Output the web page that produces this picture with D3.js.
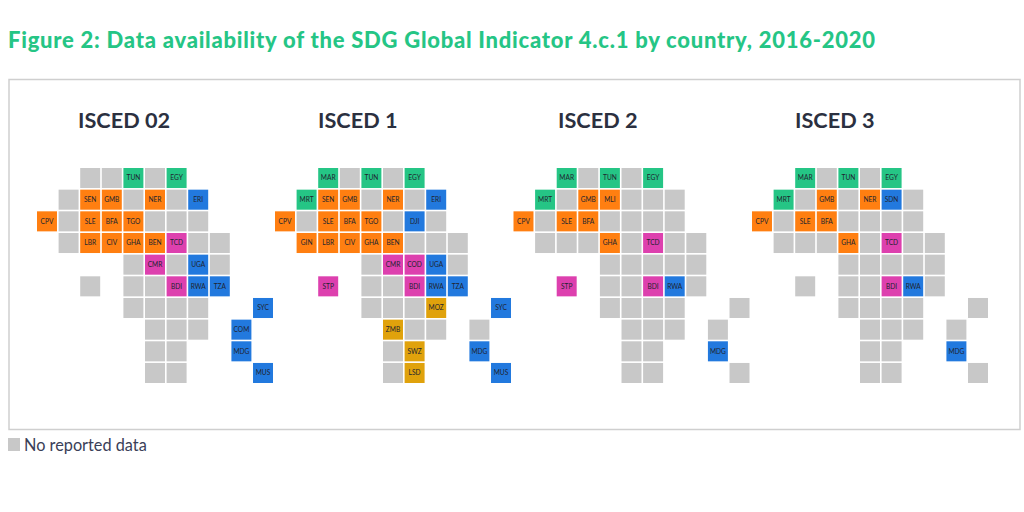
<!DOCTYPE html>
<html>
<head>
<meta charset="utf-8">
<script src="https://cdn.jsdelivr.net/npm/d3@7"></script>
<style>
    html, body { margin: 0; background: #fff; }
    svg { display: block; }
    text { font-family: Lato, sans-serif; }
</style>
</head>
<body>
<svg id="chart" width="1024" height="512"></svg>
<script>
// one string per map row, 11 columns: "." = no tile, "x" = no reported data
const isced02 = [
    ". . x x TUN x EGY . . . .",
    ". x SEN GMB x NER x ERI . . .",
    "CPV x SLE BFA TGO x x x . . .",
    ". x LBR CIV GHA BEN TCD x x . .",
    ". . . . x CMR x UGA x . .",
    ". . x . x x BDI RWA TZA . .",
    ". . . . x x x x . . SYC",
    ". . . . . x x x . COM .",
    ". . . . . x x . . MDG .",
    ". . . . . x x . . . MUS",
];
const isced1 = [
    ". . MAR x TUN x EGY . . . .",
    ". MRT SEN GMB x NER x ERI . . .",
    "CPV x SLE BFA TGO x DJI x . . .",
    ". GIN LBR CIV GHA BEN x x x . .",
    ". . . . x CMR COD UGA x . .",
    ". . STP . x x BDI RWA TZA . .",
    ". . . . x x x MOZ . . SYC",
    ". . . . . ZMB x x . x .",
    ". . . . . x SWZ . . MDG .",
    ". . . . . x LSD . . . MUS",
];
const isced2 = [
    ". . MAR x TUN x EGY . . . .",
    ". MRT x GMB MLI x x x . . .",
    "CPV x SLE BFA x x x x . . .",
    ". x x x GHA x TCD x x . .",
    ". . . . x x x x x . .",
    ". . STP . x x BDI RWA x . .",
    ". . . . x x x x . . x",
    ". . . . . x x x . x .",
    ". . . . . x x . . MDG .",
    ". . . . . x x . . . x",
];
const isced3 = [
    ". . MAR x TUN x EGY . . . .",
    ". MRT x GMB x NER SDN x . . .",
    "CPV x SLE BFA x x x x . . .",
    ". x x x GHA x TCD x x . .",
    ". . . . x x x x x . .",
    ". . x . x x BDI RWA x . .",
    ". . . . x x x x . . x",
    ". . . . . x x x . x .",
    ". . . . . x x . . MDG .",
    ". . . . . x x . . . x",
];

const panelNames = ["ISCED 02", "ISCED 1", "ISCED 2", "ISCED 3"];
const panelRows = [isced02, isced1, isced2, isced3];

// regions, these give the tile colours
const northern = ["MAR", "TUN", "EGY", "MRT"];
const western = ["SEN", "GMB", "NER", "CPV", "SLE", "BFA", "TGO", "GIN", "LBR", "CIV", "GHA", "BEN", "MLI"];
const central = ["TCD", "CMR", "COD", "BDI", "STP"];
const eastern = ["ERI", "DJI", "SDN", "UGA", "RWA", "TZA", "SYC", "COM", "MDG", "MUS"];
const southern = ["MOZ", "ZMB", "SWZ", "LSD"];

function main() {
    const svg = d3.select("#chart");

    const regionOf = new Map();
    [northern, western, central, eastern, southern].forEach((list, i) =>
        list.forEach(code => regionOf.set(code, i)));

    const color = d3.scaleOrdinal()
        .domain([0, 1, 2, 3, 4])
        .range(["#25c585", "#ff7f11", "#dd40ae", "#2279de", "#e0a20c"])
        .unknown("#c8c8c8");

    const col = d3.scaleBand().domain(d3.range(11)).range([0, 236]).paddingInner(0.075);
    const row = d3.scaleBand().domain(d3.range(10)).range([168, 383]).paddingInner(0.075);
    const panel = d3.scaleOrdinal().domain(panelNames).range([37, 275, 513.5, 752]);
    const headX = d3.scaleOrdinal().domain(panelNames).range([78, 318, 558, 795]);

    svg.append("text")
        .attr("x", 8).attr("y", 48)
        .attr("fill", "#25c585")
        .style("font-size", "22px")
        .style("font-weight", 900)
        .style("letter-spacing", "0.75px")
        .text("Figure 2: Data availability of the SDG Global Indicator 4.c.1 by country, 2016-2020");

    svg.append("rect")
        .attr("x", 9).attr("y", 79.5)
        .attr("width", 1011).attr("height", 350)
        .attr("fill", "none")
        .attr("stroke", "#cfcfcf")
        .attr("stroke-width", 1.5);

    panelNames.forEach((name, p) => {
        svg.append("text")
            .attr("x", headX(name)).attr("y", 128)
            .attr("fill", "#2b3040")
            .style("font-size", "21.7px")
            .style("font-weight", 700)
            .text(name);

        let tiles = [];
        panelRows[p].forEach((line, r) => {
            line.split(" ").forEach((code, c) => {
                if (code !== ".") tiles.push({ code, c, r });
            });
        });

        let g = svg.append("g").attr("transform", `translate(${panel(name)},0)`);
        let cell = g.selectAll("g")
            .data(tiles)
            .enter()
            .append("g")
            .attr("transform", d => `translate(${col(d.c)},${row(d.r)})`);

        cell.append("rect")
            .attr("width", col.bandwidth())
            .attr("height", row.bandwidth())
            .attr("fill", d => color(regionOf.get(d.code)));

        cell.filter(d => d.code !== "x")
            .append("text")
            .attr("x", col.bandwidth() / 2)
            .attr("y", row.bandwidth() / 2 + 2.3)
            .attr("text-anchor", "middle")
            .attr("fill", "#20242f")
            .style("font-size", "6.6px")
            .text(d => d.code);
    });

    // legend
    svg.append("rect")
        .attr("x", 8).attr("y", 438)
        .attr("width", 12).attr("height", 13)
        .attr("fill", "#c8c8c8");
    svg.append("text")
        .attr("x", 24).attr("y", 451)
        .attr("fill", "#3a4058")
        .style("font-size", "16.3px")
        .text("No reported data");
}

main();
</script>
</body>
</html>
